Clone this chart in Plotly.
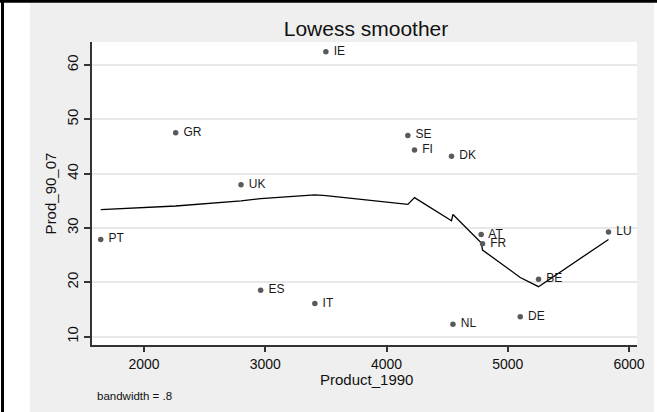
import plotly.graph_objects as go

# ---- data ----
countries = ["PT", "GR", "UK", "ES", "IT", "IE", "SE", "FI", "DK", "NL", "AT", "FR", "DE", "BE", "LU"]
product_1990 = [1643, 2261, 2800, 2962, 3409, 3500, 4176, 4231, 4536, 4548, 4781, 4792, 5103, 5254, 5831]
prod_90_07 = [27.9, 47.55, 37.95, 18.55, 16.1, 62.45, 47.05, 44.35, 43.2, 12.3, 28.8, 27.1, 13.65, 20.55, 29.25]
lowess_fit = [33.4, 34.05, 35.0, 35.4, 36.1, 35.95, 34.35, 35.6, 31.35, 32.5, 27.3, 25.95, 20.9, 19.2, 27.9]

x_ticks = [2000, 3000, 4000, 5000, 6000]
y_ticks = [10, 20, 30, 40, 50, 60]

W, H = 657, 412
L, R, T, B = 92, 637, 42, 345  # plot area in pixels


def px(xp):
    return (xp - L) / (R - L)


def py(yp):
    return (B - yp) / (B - T)


FONT = "Arial, Liberation Sans, sans-serif"

fig = go.Figure()

fig.add_trace(go.Scatter(
    x=product_1990, y=lowess_fit, mode="lines",
    line=dict(color="black", width=1.3), hoverinfo="skip", showlegend=False,
))
fig.add_trace(go.Scatter(
    x=product_1990, y=prod_90_07, mode="markers+text",
    text=[" " + c for c in countries], textposition="middle right",
    marker=dict(size=5.5, color="#5a5a5a"),
    textfont=dict(family=FONT, size=12, color="#1a1a1a"),
    showlegend=False,
))

shapes = [
    # grey graph region
    dict(type="rect", xref="paper", yref="paper", x0=px(30), x1=px(654), y0=py(3), y1=py(H),
         fillcolor="#efefef", line_width=0, layer="below"),
    # white plot region
    dict(type="rect", xref="paper", yref="paper", x0=0, x1=1, y0=0, y1=1,
         fillcolor="white", line_width=0, layer="below"),
    # black outer frame (top & left)
    dict(type="rect", xref="paper", yref="paper", x0=px(0), x1=px(W + 2), y0=py(2.7), y1=py(-2),
         fillcolor="black", line_width=0, layer="above"),
    dict(type="rect", xref="paper", yref="paper", x0=px(1), x1=px(4), y0=py(H + 2), y1=py(-2),
         fillcolor="black", line_width=0, layer="above"),
]

fig.update_layout(
    width=W, height=H, autosize=False,
    margin=dict(l=L, r=W - R, t=T, b=H - B, pad=0),
    paper_bgcolor="white", plot_bgcolor="white",
    showlegend=False,
    font=dict(family=FONT, color="#111111"),
    title=dict(text="Lowess smoother", x=px(366), xref="paper", xanchor="center",
               y=1 - 29 / H, yref="container", yanchor="middle",
               font=dict(family=FONT, size=21, color="#111111")),
    shapes=shapes,
    annotations=[
        dict(text="bandwidth = .8", xref="paper", yref="paper", x=px(95), y=py(396),
             xanchor="left", yanchor="middle", showarrow=False,
             font=dict(family=FONT, size=11.5, color="#111111")),
        dict(text="Product_1990", xref="paper", yref="paper", x=px(366), y=py(370),
             xanchor="center", yanchor="top", showarrow=False, borderpad=0,
             font=dict(family=FONT, size=15, color="#111111")),
    ],
    xaxis=dict(range=[1571, 6066], tickvals=x_ticks, showgrid=False, zeroline=False,
               showline=True, linecolor="#333333", linewidth=1.5,
               ticks="outside", ticklen=5, tickwidth=1.5, tickcolor="#333333",
               tickfont=dict(family=FONT, size=14, color="#111111")),
    yaxis=dict(range=[8.47, 64.24], tickvals=y_ticks, tickangle=-90,
               showgrid=True, gridcolor="#e8e8e8", gridwidth=1.5, zeroline=False,
               showline=True, linecolor="#333333", linewidth=1.5,
               ticks="outside", ticklen=6, tickwidth=1.5, tickcolor="#333333",
               tickfont=dict(family=FONT, size=15, color="#111111"),
               title=dict(text="Prod_90_07", standoff=4,
                          font=dict(family=FONT, size=15, color="#111111"))),
)

fig.write_html("out.html")
